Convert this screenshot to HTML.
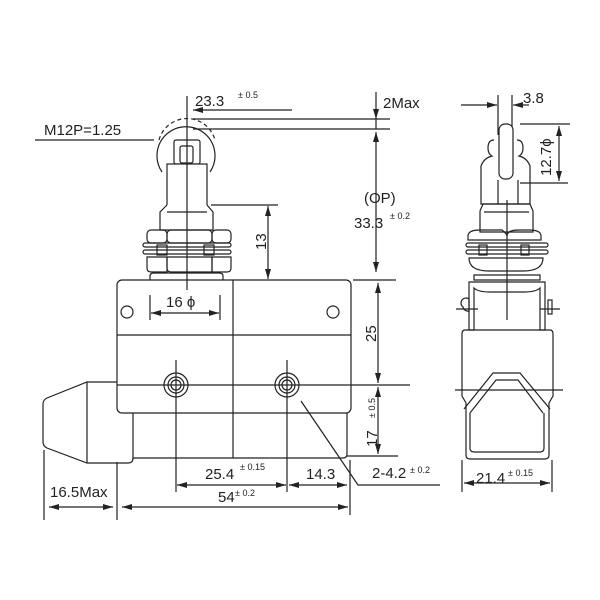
<!DOCTYPE html>
<html><head><style>body{margin:0;background:#fff}svg{display:block}text{font-family:"Liberation Sans",sans-serif;fill:#222}</style></head>
<body>
<svg width="600" height="600" viewBox="0 0 600 600" xmlns="http://www.w3.org/2000/svg">
<defs>
<marker id="a" viewBox="0 0 10 6" refX="10" refY="3" markerWidth="10" markerHeight="6" orient="auto-start-reverse" markerUnits="userSpaceOnUse"><path d="M0,0L10,3L0,6z" fill="#222"/></marker>
</defs>
<g fill="none" stroke="#222" stroke-width="1.2">
<!-- front view roller -->
<path d="M162,172 A29,29 0 1 1 210,172"/>
<path d="M159,140 A29,29 0 0 1 215,140" stroke-dasharray="4,3"/>
<rect x="174" y="140" width="26" height="24" rx="2" fill="#fff"/>
<rect x="180" y="146" width="13" height="17" rx="2"/>
<rect x="167" y="164" width="40" height="42" fill="#fff"/>
<path d="M167,205 L160,212 L160,230 L213,230 L213,212 L207,205" fill="#fff"/>
<line x1="167" y1="212" x2="207" y2="212"/>
<rect x="147" y="230" width="20" height="13" rx="4"/>
<rect x="167" y="230" width="45" height="13" rx="4"/>
<rect x="212" y="230" width="19" height="13" rx="4"/>
<rect x="143" y="243" width="88" height="4" rx="2"/>
<rect x="143" y="250" width="88" height="4" rx="2"/>
<rect x="157" y="245" width="10" height="10"/>
<rect x="204" y="245" width="10" height="10"/>
<path d="M147,257 h20 v15 h-16 q-4,0 -4,-4z"/>
<path d="M167,257 h45 v15 h-41 q-4,0 -4,-4z"/>
<path d="M212,257 h19 v11 q0,4 -4,4 h-15z"/>
<path d="M150,280 v-4 q0,-3 4,-3 h65 q4,0 4,3 v4"/>
<!-- body -->
<rect x="117" y="280" width="234" height="133" rx="5"/>
<line x1="233" y1="280" x2="233" y2="458"/>
<line x1="117" y1="335" x2="351" y2="335"/>
<path d="M133,413 V458 H343 q4,0 4,-4 V413"/>
<circle cx="127" cy="312" r="6"/><circle cx="333" cy="312" r="6"/>
<circle cx="176" cy="385" r="12"/><circle cx="176" cy="385" r="8"/><circle cx="176" cy="385" r="5"/>
<circle cx="287" cy="385" r="12"/><circle cx="287" cy="385" r="8"/><circle cx="287" cy="385" r="5"/>
<path d="M117,382 H87 L47,398 Q43,400 43,404 V442 Q43,446 47,448 L87,463 H128 q5,0 5,-5"/>
<line x1="87" y1="382" x2="87" y2="463"/>
<!-- center lines -->
<line x1="187" y1="96" x2="187" y2="290"/>
<line x1="117" y1="385" x2="410" y2="385"/>
<line x1="176" y1="360" x2="176" y2="492"/>
<line x1="287" y1="360" x2="287" y2="492"/>
<!-- dims top -->
<line x1="193" y1="119" x2="390" y2="119"/>
<line x1="193" y1="129" x2="390" y2="129"/>
<line x1="193" y1="110" x2="292" y2="110" marker-start="url(#a)"/>
<line x1="376" y1="92" x2="376" y2="119" marker-end="url(#a)"/>
<line x1="376" y1="119" x2="376" y2="129"/>
<line x1="376" y1="132" x2="376" y2="272" marker-start="url(#a)" marker-end="url(#a)"/>
<line x1="35" y1="140" x2="154" y2="140"/>
<line x1="211" y1="205" x2="278" y2="205"/>
<line x1="268" y1="206" x2="268" y2="279" marker-start="url(#a)" marker-end="url(#a)"/>
<line x1="353" y1="280" x2="396" y2="280"/>
<line x1="378" y1="283" x2="378" y2="383" marker-start="url(#a)" marker-end="url(#a)"/>
<line x1="378" y1="387" x2="378" y2="454" marker-start="url(#a)" marker-end="url(#a)"/>
<line x1="347" y1="456" x2="398" y2="456"/>
<line x1="150" y1="295" x2="150" y2="320"/><line x1="220" y1="295" x2="220" y2="320"/>
<line x1="151" y1="313" x2="219" y2="313" marker-start="url(#a)" marker-end="url(#a)"/>
<!-- dims bottom -->
<line x1="44" y1="450" x2="44" y2="520"/>
<line x1="117" y1="462" x2="117" y2="520"/>
<line x1="350" y1="460" x2="350" y2="515"/>
<line x1="177" y1="485" x2="286" y2="485" marker-start="url(#a)" marker-end="url(#a)"/>
<line x1="289" y1="485" x2="347" y2="485" marker-start="url(#a)" marker-end="url(#a)"/>
<line x1="122" y1="507" x2="348" y2="507" marker-start="url(#a)" marker-end="url(#a)"/>
<line x1="49" y1="507" x2="113" y2="507" marker-start="url(#a)" marker-end="url(#a)"/>
<polyline points="301,401 358,485 440,485"/>
<!-- side view -->
<line x1="461" y1="105" x2="497" y2="105" marker-end="url(#a)"/>
<line x1="529" y1="105" x2="513" y2="105" marker-end="url(#a)"/>
<line x1="498" y1="95" x2="498" y2="135"/><line x1="512" y1="95" x2="512" y2="135"/>
<line x1="520" y1="124" x2="570" y2="124"/><line x1="520" y1="183" x2="568" y2="183"/>
<line x1="559" y1="126" x2="559" y2="181" marker-start="url(#a)" marker-end="url(#a)"/>
<path d="M494,140 q-6,0 -6,8 q0,6 4,8 q-8,2 -11,10 v38 h49 v-38 q-3,-8 -11,-10 q4,-2 4,-8 q0,-8 -6,-8"/>
<rect x="499" y="124" width="14" height="55" rx="6" fill="#fff"/>
<line x1="498" y1="180" x2="498" y2="204"/><line x1="518" y1="180" x2="518" y2="204"/>
<path d="M483,204 L480,211 V232 H533 V211 L530,204z"/>
<line x1="484" y1="212" x2="529" y2="212"/>
<path d="M468,236 q0,-6 12,-6 h22 q5,4 5,6 q0,-6 12,-6 h10 q12,0 12,6 v4 h-73z"/>
<rect x="466" y="243" width="82" height="4" rx="2"/><rect x="466" y="250" width="82" height="4" rx="2"/>
<rect x="479" y="245" width="8" height="10"/><rect x="521" y="245" width="8" height="10"/>
<path d="M469,258 h74 q0,13 -20,13 h-34 q-20,0 -20,-13z"/>
<path d="M474,275 h66 v5 h-66z"/>
<path d="M471,282 H545 V330 H540 V288 Q536,292 524,292 H490 Q478,292 474,288 V330 H469 V282z"/>
<path d="M463,307 a5,5 0 0 1 6,-8 v12 a5,5 0 0 1 -6,-4z"/>
<rect x="548" y="300" width="4" height="14"/>
<line x1="456" y1="309" x2="478" y2="309"/><line x1="540" y1="309" x2="560" y2="309"/>
<path d="M465,330 H550 q3,0 3,4 V396 l-4,7 V455 q0,4 -4,4 H470 q-4,0 -4,-4 V403 l-4,-7 V334 q0,-4 3,-4z"/>
<path d="M464,409 L493,373 H520 L550,409 M470,413 L496,380 H518 L543,413"/>
<path d="M470,413 V448 q0,4 4,4 H540 q4,0 4,-4 V413"/>
<line x1="455" y1="390" x2="563" y2="390"/>
<line x1="507" y1="200" x2="507" y2="320"/>
<line x1="462" y1="460" x2="462" y2="492"/><line x1="552" y1="460" x2="552" y2="492"/>
<line x1="464" y1="483" x2="550" y2="483" marker-start="url(#a)" marker-end="url(#a)"/>
</g>
<g font-size="15">
<text x="195" y="106">23.3</text><text x="238" y="98" font-size="9">± 0.5</text>
<text x="383" y="108">2Max</text>
<text x="44" y="135">M12P=1.25</text>
<text x="364" y="203">(OP)</text>
<text x="354" y="228">33.3</text><text x="390" y="219" font-size="9">± 0.2</text>
<text x="166" y="307">16 ϕ</text>
<text x="205" y="479">25.4</text><text x="240" y="470" font-size="9">± 0.15</text>
<text x="306" y="479">14.3</text>
<text x="218" y="502">54</text><text x="235" y="496" font-size="9">± 0.2</text>
<text x="50" y="497">16.5Max</text>
<text x="372" y="478">2-4.2</text><text x="410" y="473" font-size="9">± 0.2</text>
<text x="523" y="103">3.8</text>
<text x="476" y="483">21.4</text><text x="508" y="476" font-size="9">± 0.15</text>
<text transform="translate(266,250) rotate(-90)">13</text>
<text transform="translate(376,342) rotate(-90)">25</text>
<text transform="translate(377,447) rotate(-90)">17</text>
<text transform="translate(375,418) rotate(-90)" font-size="9">± 0.5</text>
<text transform="translate(551,176) rotate(-90)">12.7ϕ</text>
</g>
</svg>
</body></html>
